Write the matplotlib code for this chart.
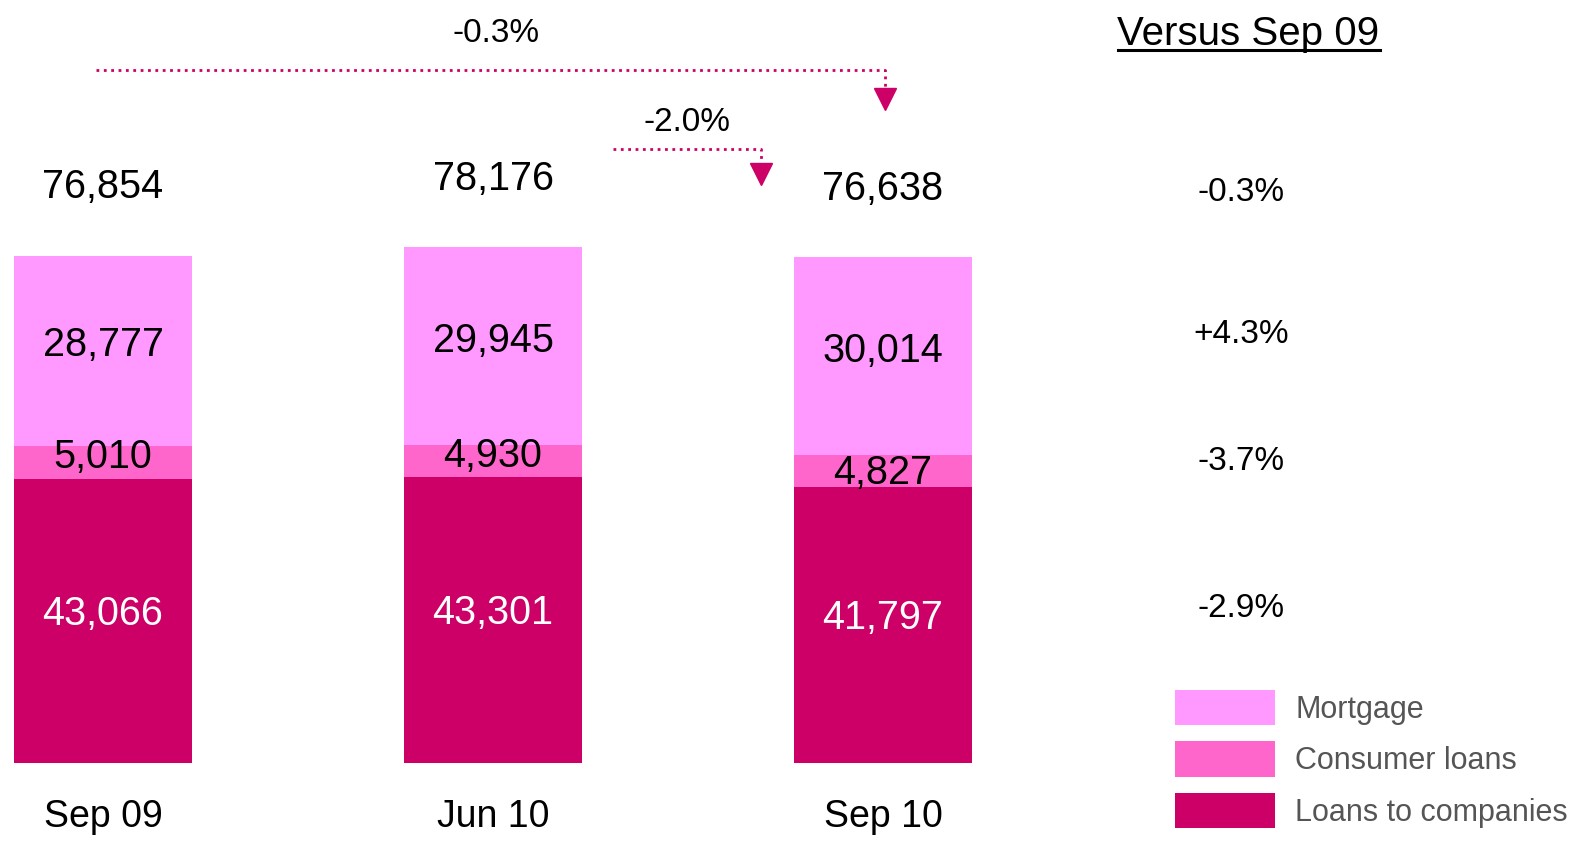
import matplotlib
matplotlib.use("Agg")
import matplotlib.pyplot as plt
import matplotlib.transforms as mtransforms

plt.rcParams['font.family'] = ['Liberation Sans', 'DejaVu Sans']

# data
periods = ["Sep 09", "Jun 10", "Sep 10"]
companies = [43066, 43301, 41797]
consumer = [5010, 4930, 4827]
mortgage = [28777, 29945, 30014]
totals = [76854, 78176, 76638]
change_total = "-0.3%"
change_quarter = "-2.0%"
versus_labels = ["-0.3%", "+4.3%", "-3.7%", "-2.9%"]

c_mort = "#FF99FF"
c_cons = "#FF66CC"
c_comp = "#CC0066"

W, H = 1585, 842
fig = plt.figure(figsize=(W / 100, H / 100), dpi=100)
base = 763  # pixel row of the bar baseline
ax = fig.add_axes([0, (H - base) / H, 1, base / H])
ax.set_xlim(-103 / 390, (W - 103) / 390)
ax.set_ylim(0, base * 151.6)
for s in ax.spines.values():
    s.set_visible(False)
ax.set_yticks([])

x = range(len(periods))
bw = 0.455
b1 = ax.bar(x, companies, bw, color=c_comp, label="Loans to companies")
bot2 = [a for a in companies]
b2 = ax.bar(x, consumer, bw, bottom=bot2, color=c_cons, label="Consumer loans")
bot3 = [a + b for a, b in zip(companies, consumer)]
b3 = ax.bar(x, mortgage, bw, bottom=bot3, color=c_mort, label="Mortgage")

ax.set_xticks(list(x), periods, fontsize=27)
ax.tick_params(axis="x", length=0, pad=26)

fs = 28.5
cons_off = [4, 4, -1]
for i in x:
    ax.annotate(f"{companies[i]:,}", (i, companies[i] / 2), xytext=(0, 5),
                textcoords="offset points", ha="center", va="center",
                fontsize=fs, color="white")
    ax.annotate(f"{consumer[i]:,}", (i, bot2[i] + consumer[i] / 2),
                xytext=(0, cons_off[i]), textcoords="offset points",
                ha="center", va="center", fontsize=fs, color="black")
    ax.annotate(f"{mortgage[i]:,}", (i, bot3[i] + mortgage[i] / 2), xytext=(0, 4),
                textcoords="offset points", ha="center", va="center",
                fontsize=fs, color="black")
    ax.annotate(f"{totals[i]:,}", (i, totals[i]), xytext=(0, 49.5),
                textcoords="offset points", ha="center", va="center",
                fontsize=fs, color="black")

# arrows: x in data units, y in axes fraction
tr = mtransforms.blended_transform_factory(ax.transData, ax.transAxes)
ax.plot([-0.018, 2.006, 2.006], [0.908, 0.908, 0.883], ls=":", lw=2,
        color=c_comp, transform=tr, clip_on=False)
ax.plot([2.006], [0.8696], marker="v", ms=16, color=c_comp, transform=tr,
        clip_on=False)
ax.text(1.008, 0.956, change_total, ha="center", va="center", fontsize=24,
        transform=tr)

ax.plot([1.308, 1.687, 1.687], [0.8047, 0.8047, 0.785], ls=":", lw=2,
        color=c_comp, transform=tr, clip_on=False)
ax.plot([1.687], [0.772], marker="v", ms=16, color=c_comp, transform=tr,
        clip_on=False)
ax.text(1.497, 0.840, change_quarter, ha="center", va="center", fontsize=24,
        transform=tr)

# versus column
ax.text(2.936, 0.956, "Versus Sep 09", ha="center", va="center",
        fontsize=29, transform=tr)
ax.plot([2.603, 3.274], [0.9345, 0.9345], color="black", lw=2.2,
        transform=tr, clip_on=False)
for lab, yy in zip(versus_labels, [0.748, 0.561, 0.3957, 0.2031]):
    ax.text(2.918, yy, lab, ha="center", va="center", fontsize=24,
            transform=tr)

ax.legend(handles=[b3, b2, b1], loc="upper left",
          bbox_to_anchor=(1175 / W, 1 - 690 / H),
          bbox_transform=fig.transFigure, frameon=False, fontsize=22,
          labelcolor="#555555", handlelength=3.28, handleheight=1.4,
          handletextpad=0.65, labelspacing=0.53, borderpad=0,
          borderaxespad=0)

fig.savefig("out.png", dpi=100)
